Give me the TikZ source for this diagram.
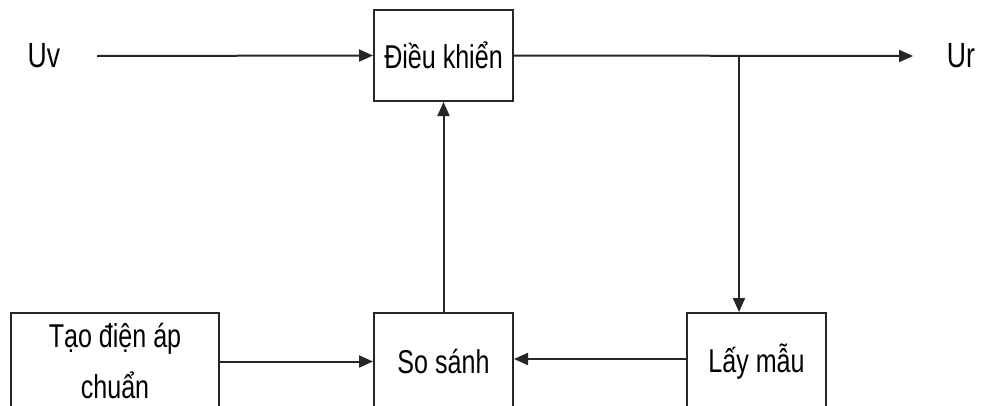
\documentclass[tikz,border=0pt]{standalone}
\usepackage{fontspec}
\setmainfont{Liberation Sans}
\newfontfamily\narrowfont[FakeStretch=0.76]{Liberation Sans}
\usetikzlibrary{arrows.meta}
\begin{document}
\begin{tikzpicture}[x=1pt,y=-1pt,
  blockbox/.style={draw=black!85,line width=2pt,inner sep=0pt,font=\narrowfont\fontsize{33}{55}\selectfont,text=black},
  conn/.style={draw=black!85,line width=2pt,-{Triangle[length=14pt,width=12pt]}},
  lbl/.style={font=\narrowfont\fontsize{35}{40}\selectfont,inner sep=0pt}]
\useasboundingbox (0,0) rectangle (981,405);
\clip (0,0) rectangle (981,405);
\node[blockbox,minimum width=139pt,minimum height=91pt] (dk) at (443.5,55.5) {Điều khiển};
\node[blockbox,minimum width=139pt,minimum height=97pt] (ss) at (443.5,361.5) {So sánh};
\node[blockbox,minimum width=208pt,minimum height=97pt,align=center] (tao) at (115,361.5) {Tạo điện áp\\[-4pt]chuẩn};
\node[blockbox,minimum width=139pt,minimum height=97pt] (lm) at (756.5,361.5) {Lấy mẫu};
\node[lbl] (uv) at (44,56) {Uv};
\node[lbl] (ur) at (961,56) {Ur};
\coordinate (inp) at (97,56);
\coordinate (outp) at (913,56);
\coordinate (br) at (739,56);
\draw[conn] (inp) -- (dk.west);
\draw[conn] (dk.east) -- (outp);
\draw[conn] (br) -- (br |- lm.north);
\draw[conn] (lm.west |- 0,359) -- (ss.east |- 0,359);
\draw[conn] (tao.east) -- (ss.west);
\draw[conn] (ss.north) -- (dk.south);
\end{tikzpicture}
\end{document}
